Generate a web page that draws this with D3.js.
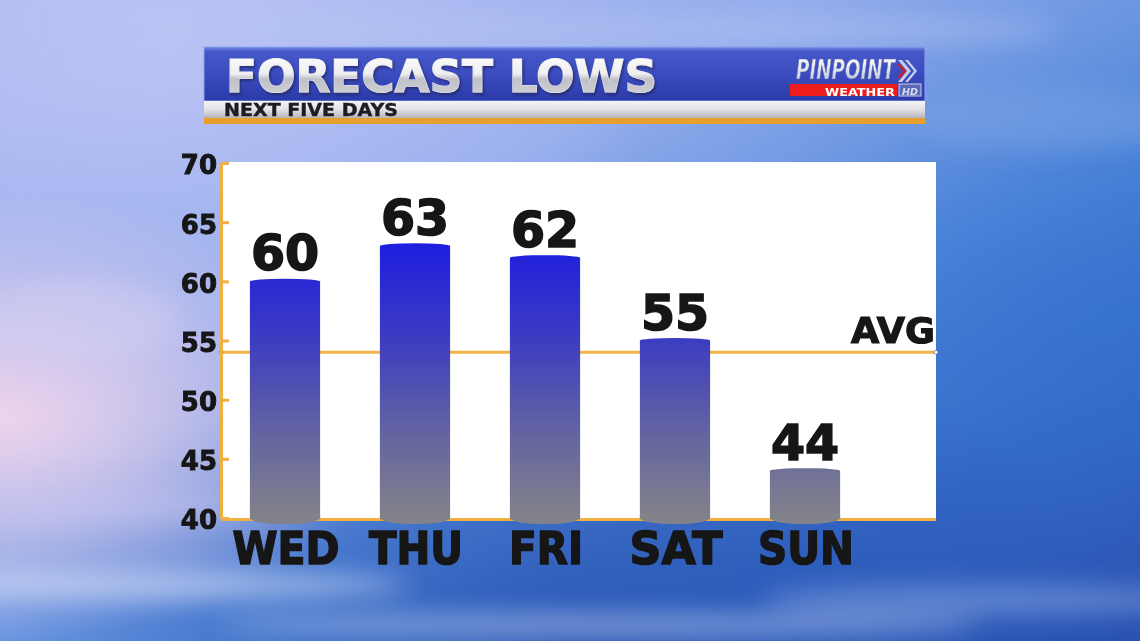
<!DOCTYPE html>
<html><head><meta charset="utf-8">
<script src="https://cdn.jsdelivr.net/npm/d3@7"></script>
<style>html,body{margin:0;padding:0;background:#6f8fe0;overflow:hidden}svg{display:block}</style>
</head><body>
<svg id="c" width="1140" height="641"></svg>
<script>
const days = ["WED","THU","FRI","SAT","SUN"];
const lows = [60,63,62,55,44];
const avgLow = 54;
const yTicks = [40,45,50,55,60,65,70];
const titleText = "FORECAST LOWS";
const subText = "NEXT FIVE DAYS";

const W=1140,H=641;
const svg=d3.select("#c");
const defs=svg.append("defs");
const F='"DejaVu Sans", sans-serif';
const INK="#161616";

// background gradients
const bg=defs.append("linearGradient").attr("id","bg").attr("x1",0).attr("y1",0).attr("x2",1).attr("y2",1);
bg.selectAll("stop").data([[0,"#a9b6f2"],[0.35,"#93acec"],[0.6,"#5288da"],[0.8,"#3468c6"],[1,"#2a52b2"]]).join("stop").attr("offset",d=>d[0]).attr("stop-color",d=>d[1]);
const rg=(id,cx,cy,r,col,op)=>{const g=defs.append("radialGradient").attr("id",id).attr("cx",cx).attr("cy",cy).attr("r",r);g.append("stop").attr("offset",0).attr("stop-color",col).attr("stop-opacity",op);g.append("stop").attr("offset",1).attr("stop-color",col).attr("stop-opacity",0);};
rg("pink",0.0,0.65,0.35,"#f2d6ec",0.95);
rg("lt",0.15,0.05,0.45,"#c2c8f6",0.8);
rg("bl",0.97,0.5,0.35,"#3272d2",0.6);
rg("bot",0.5,1.0,0.5,"#1f47a8",0.6);
svg.append("rect").attr("width",W).attr("height",H).attr("fill","url(#bg)");
svg.append("rect").attr("width",W).attr("height",H).attr("fill","url(#lt)");
svg.append("rect").attr("width",W).attr("height",H).attr("fill","url(#bl)");
svg.append("rect").attr("width",W).attr("height",H).attr("fill","url(#bot)");
svg.append("rect").attr("width",W).attr("height",H).attr("fill","url(#pink)");
const blur=defs.append("filter").attr("id","blur").attr("x","-50%").attr("y","-50%").attr("width","200%").attr("height","200%");
blur.append("feGaussianBlur").attr("stdDeviation",12);
const clouds=svg.append("g").attr("filter","url(#blur)");
[[150,585,260,14,"#dfe6fb",0.55],[600,625,380,12,"#c9d6f6",0.5],[980,600,220,16,"#a8c0f0",0.4],[80,505,160,18,"#c6c4ef",0.5],[1050,120,140,30,"#7aa3e6",0.5],[560,30,500,18,"#b4c4f2",0.5],[80,320,100,40,"#d4d0f4",0.45]].forEach(c=>{
clouds.append("ellipse").attr("cx",c[0]).attr("cy",c[1]).attr("rx",c[2]).attr("ry",c[3]).attr("fill",c[4]).attr("opacity",c[5]);});

// header
const hx=204,hy=47,hw=721;
const hb=defs.append("linearGradient").attr("id","hb").attr("x1",0).attr("y1",0).attr("x2",0).attr("y2",1);
hb.selectAll("stop").data([[0,"#7088e6"],[0.08,"#4658c8"],[0.5,"#3b4cc0"],[1,"#2b3aa6"]]).join("stop").attr("offset",d=>d[0]).attr("stop-color",d=>d[1]);
const hs=defs.append("linearGradient").attr("id","hs").attr("x1",0).attr("y1",0).attr("x2",0).attr("y2",1);
hs.selectAll("stop").data([[0,"#f4f4f6"],[0.5,"#e2e2e6"],[1,"#b4b4bc"]]).join("stop").attr("offset",d=>d[0]).attr("stop-color",d=>d[1]);
const ht=defs.append("linearGradient").attr("id","ht").attr("x1",0).attr("y1",0).attr("x2",0).attr("y2",1);
ht.selectAll("stop").data([[0,"#ffffff"],[0.45,"#eeeef0"],[0.55,"#c0c0c8"],[1,"#d6d6dc"]]).join("stop").attr("offset",d=>d[0]).attr("stop-color",d=>d[1]);
const sh=defs.append("filter").attr("id","tsh").attr("x","-5%").attr("y","-20%").attr("width","110%").attr("height","150%");
sh.append("feDropShadow").attr("dx",1.5).attr("dy",2).attr("stdDeviation",0.8).attr("flood-color","#1a1f4a").attr("flood-opacity",0.6);
svg.append("rect").attr("x",hx).attr("y",hy).attr("width",hw).attr("height",54).attr("fill","url(#hb)").attr("stroke","#8aa0ee").attr("stroke-width",1);
svg.append("rect").attr("x",hx).attr("y",101).attr("width",hw).attr("height",17).attr("fill","url(#hs)");
svg.append("rect").attr("x",hx).attr("y",118).attr("width",hw).attr("height",6).attr("fill","#e7a02e");
svg.append("text").attr("x",226).attr("y",92).attr("font-family",F).attr("font-weight",700).attr("font-size",44).attr("fill","url(#ht)").attr("stroke","#e4e4ea").attr("stroke-width",1.2).attr("paint-order","stroke").attr("filter","url(#tsh)").attr("textLength",431).attr("lengthAdjust","spacingAndGlyphs").text(titleText);
svg.append("text").attr("x",224).attr("y",116).attr("font-family",F).attr("font-weight",700).attr("font-size",17).attr("fill","#1c1c24").attr("stroke","#1c1c24").attr("stroke-width",0.4).attr("textLength",174).attr("lengthAdjust","spacingAndGlyphs").text(subText);
// logo
const lg=defs.append("linearGradient").attr("id","lg").attr("x1",0).attr("y1",0).attr("x2",0).attr("y2",1);
lg.selectAll("stop").data([[0,"#ffffff"],[0.5,"#dfe2f0"],[1,"#b4b8d2"]]).join("stop").attr("offset",d=>d[0]).attr("stop-color",d=>d[1]);
svg.append("text").attr("x",796).attr("y",79).attr("font-family","'Liberation Sans Narrow','DejaVu Sans Condensed',sans-serif").attr("font-style","italic").attr("font-weight",700).attr("font-size",26).attr("fill","url(#lg)").attr("stroke","#5a64a8").attr("stroke-width",0.6).attr("textLength",99).attr("lengthAdjust","spacingAndGlyphs").text("PINPOINT");
svg.append("path").attr("d","M898,60 L907,71 L898,82 L902,82 L911,71 L902,60Z M905,60 L914,71 L905,82 L908,82 L917,71 L908,60Z").attr("fill","#c8cce8");
svg.append("path").attr("d","M897,64 L903,71 L897,78 L900,78 L906,71 L900,64Z").attr("fill","#d02020");
svg.append("rect").attr("x",790).attr("y",84).attr("width",107).attr("height",12).attr("fill","#ee1c1c");
svg.append("text").attr("x",895).attr("y",95.5).attr("text-anchor","end").attr("font-family",F).attr("font-weight",700).attr("font-size",10.5).attr("fill","#fff").attr("textLength",70).attr("lengthAdjust","spacingAndGlyphs").text("WEATHER");
svg.append("rect").attr("x",899).attr("y",84).attr("width",22).attr("height",12).attr("fill","#5a6ab8").attr("stroke","#c8cce8").attr("stroke-width",1);
svg.append("text").attr("x",910).attr("y",95).attr("text-anchor","middle").attr("font-family",F).attr("font-style","italic").attr("font-weight",700).attr("font-size",9.5).attr("fill","#dde").text("HD");

// chart
const pL=221,pR=936,pT=162,pB=521;
const y=d3.scaleLinear().domain([40,70]).range([518,163]);
const x=d3.scaleBand().domain(days).range([220,870]).paddingInner(0.46).paddingOuter(0.23);
svg.append("rect").attr("x",pL).attr("y",pT).attr("width",pR-pL).attr("height",pB-pT).attr("fill","#ffffff");

const bgGrad=defs.append("linearGradient").attr("id","barg").attr("gradientUnits","userSpaceOnUse").attr("x1",0).attr("x2",0).attr("y1",y(64)).attr("y2",y(40));
bgGrad.selectAll("stop").data([[0,"#1b1be2"],[0.35,"#3a3ac4"],[0.65,"#5e5ea6"],[1,"#82828a"]]).join("stop").attr("offset",d=>d[0]).attr("stop-color",d=>d[1]);

// avg line
svg.append("line").attr("x1",pL).attr("x2",pR).attr("y1",y(avgLow)).attr("y2",y(avgLow)).attr("stroke","#efb448").attr("stroke-width",3);
svg.selectAll(".endc").data([pL,pR]).join("circle").attr("cx",d=>d).attr("cy",y(avgLow)).attr("r",2).attr("fill","#fff").attr("stroke","#555").attr("stroke-width",0.6);
svg.append("text").attr("x",935).attr("y",343).attr("text-anchor","end").attr("font-family",F).attr("font-weight",700).attr("font-size",36).attr("fill",INK).attr("stroke",INK).attr("stroke-width",1.2).attr("textLength",84).attr("lengthAdjust","spacingAndGlyphs").text("AVG");

// bars
const bw=x.bandwidth(), rx=bw/2;
svg.selectAll(".bar").data(lows).join("path").attr("class","bar")
 .attr("d",(d,i)=>{const x0=x(days[i]),x1=x0+bw,yt=y(d),yb=y(40);
   return `M${x0},${yt} A${rx},2.5 0 0 1 ${x1},${yt} L${x1},${yb} A${rx},6 0 0 1 ${x0},${yb} Z`;})
 .attr("fill","url(#barg)");
// bottom axis line
svg.append("line").attr("x1",pL).attr("x2",pR).attr("y1",519.5).attr("y2",519.5).attr("stroke","#efb040").attr("stroke-width",3);
// redraw bottom ellipses over the line
svg.selectAll(".bbot").data(lows).join("path").attr("class","bbot")
 .attr("d",(d,i)=>{const x0=x(days[i]),x1=x0+bw,yb=y(40);return `M${x0},${yb-3} L${x1},${yb-3} L${x1},${yb} A${rx},6 0 0 1 ${x0},${yb} Z`;})
 .attr("fill","#82828a");

// value labels
svg.selectAll(".val").data(lows).join("text").attr("class","val")
 .attr("x",(d,i)=>x(days[i])+bw/2).attr("y",d=>y(d)-11).attr("text-anchor","middle")
 .attr("font-family",F).attr("font-weight",700).attr("font-size",49).attr("fill",INK).attr("stroke",INK).attr("stroke-width",1.6).text(d=>d);
// day labels
svg.selectAll(".day").data(days).join("text").attr("class","day")
 .attr("x",d=>x(d)+bw/2+1).attr("y",564).attr("text-anchor","middle")
 .attr("font-family",F).attr("font-weight",700).attr("font-size",45).attr("fill",INK).attr("stroke",INK).attr("stroke-width",1.6)
 .attr("textLength",d=>({WED:107,THU:94,FRI:74,SAT:93,SUN:96})[d]).attr("lengthAdjust","spacingAndGlyphs").text(d=>d);

// y axis
const ax=svg.append("g").attr("transform",`translate(${pL},0)`).call(d3.axisLeft(y).tickValues(yTicks).tickSizeInner(-8).tickSizeOuter(0).tickPadding(12));
ax.select(".domain").attr("stroke","#efb040").attr("stroke-width",3);
ax.selectAll(".tick line").attr("stroke","#efb040").attr("stroke-width",3);
ax.selectAll(".tick text").attr("font-family",F).attr("font-weight",700).attr("font-size",26).attr("fill",INK).attr("stroke",INK).attr("stroke-width",0.9).attr("x",-4).attr("dy","0.42em");
</script>
</body></html>
